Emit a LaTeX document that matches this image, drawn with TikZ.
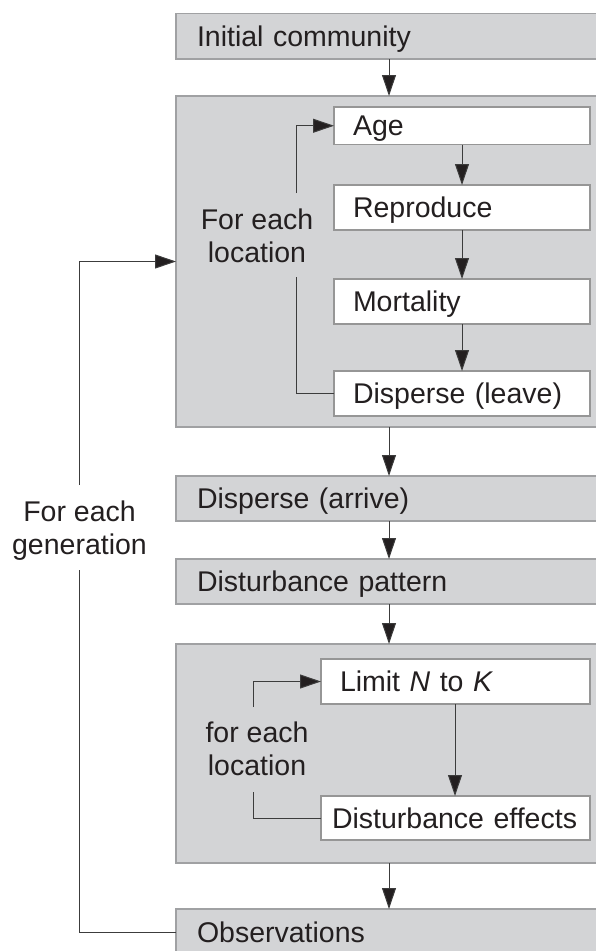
\documentclass[tikz,border=0pt]{standalone}
\usepackage{fontspec}
\setmainfont{Liberation Sans}
\usetikzlibrary{arrows.meta}
\definecolor{boxfill}{RGB}{211,212,214}
\definecolor{boxline}{RGB}{160,161,163}
\definecolor{wline}{RGB}{150,150,150}
\definecolor{ink}{RGB}{35,31,32}
\definecolor{lineink}{RGB}{60,60,60}
\newcommand\fsz{\fontsize{28.5}{33}\selectfont}
\begin{document}
\begin{tikzpicture}[x=1pt,y=-1pt,
  basebox/.style={rectangle, anchor=north west, outer sep=0pt, inner ysep=0pt,
    align=left, font=\fsz, text height=20.4pt, text depth=0pt, text=ink},
  graybox/.style={basebox, draw=boxline, fill=boxfill, line width=1.1pt, inner xsep=21pt},
  whitebox/.style={basebox, draw=wline, fill=white, line width=1.1pt, inner xsep=19pt},
  conn/.style={draw=lineink, line width=1pt},
  arr/.style={conn, -{Triangle[length=21pt,width=14pt,fill=ink]}},
  looptext/.style={font=\fsz, align=center, text=ink, inner sep=0pt, anchor=base}]
\useasboundingbox (0,0) rectangle (595,951);

% main boxes
\node[graybox, minimum height=45.5pt, text width=383pt] (init) at (176,13.5) {Initial community};
\node[graybox, minimum height=331pt, minimum width=425pt] (big1) at (176,96) {};
\node[whitebox, minimum height=37.5pt, text width=218pt] (age) at (334,107) {Age};
\node[whitebox, minimum height=45pt, text width=218pt] (repro) at (334,185) {Reproduce};
\node[whitebox, minimum height=45pt, text width=218pt] (mort) at (334,279) {Mortality};
\node[whitebox, minimum height=45pt, text width=218pt] (leave) at (334,371) {Disperse (leave)};
\node[graybox, minimum height=45pt, text width=383pt] (arrive) at (176,476) {Disperse (arrive)};
\node[graybox, minimum height=45pt, text width=383pt] (pattern) at (176,559) {Disturbance pattern};
\node[graybox, minimum height=219pt, minimum width=425pt] (big2) at (176,644) {};
\node[whitebox, minimum height=45pt, text width=231pt] (limit) at (321,659) {Limit \textit{N} to \textit{K}};
\node[whitebox, minimum height=44pt, inner xsep=11pt, text width=247pt] (effects) at (321,796) {Disturbance effects};
\node[graybox, minimum height=46pt, text width=383pt] (obs) at (176,909) {Observations};

% loop labels (anchor = baseline of last line)
\node[looptext] (loc1) at (257,262) {For each\\location};
\node[looptext] (loc2) at (257,775) {for each\\location};
\node[looptext] (gen) at (79.5,554) {For each\\generation};

% spines
\coordinate (sp) at (389,0);
\coordinate (sa) at (462,0);
\coordinate (sb) at (455,0);

\draw[arr] (init.south -| sp) -- (big1.north -| sp);
\draw[arr] (age.south -| sa) -- (repro.north -| sa);
\draw[arr] (repro.south -| sa) -- (mort.north -| sa);
\draw[arr] (mort.south -| sa) -- (leave.north -| sa);
\draw[arr] (big1.south -| sp) -- (arrive.north -| sp);
\draw[arr] (arrive.south -| sp) -- (pattern.north -| sp);
\draw[arr] (pattern.south -| sp) -- (big2.north -| sp);
\draw[arr] (limit.south -| sb) -- (effects.north -| sb);
\draw[arr] (big2.south -| sp) -- (obs.north -| sp);

% inner loop 1
\coordinate (l1b) at (296,277);
\coordinate (l1t) at (296,193);
\draw[conn] (leave.west) -| (l1b);
\draw[arr] (l1t) |- (age.west);

% inner loop 2
\coordinate (l2b) at (253,792);
\coordinate (l2t) at (253,707);
\draw[conn] (effects.west) -| (l2b);
\draw[arr] (l2t) |- (limit.west);

% outer loop
\coordinate (gb) at (79,570);
\coordinate (gt) at (79,485);
\draw[conn] (obs.west) -| (gb);
\draw[arr] (gt) |- (big1.west);
\end{tikzpicture}
\end{document}
